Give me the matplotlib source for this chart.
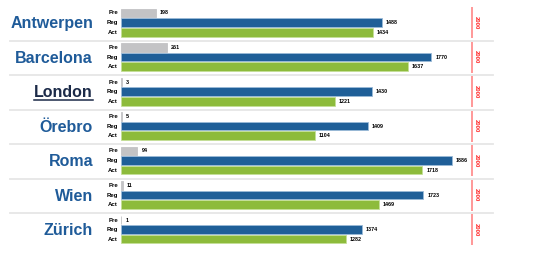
import numpy as np
import matplotlib
matplotlib.use("Agg")
import matplotlib.pyplot as plt

cities = ["Antwerpen", "Barcelona", "London", "Örebro", "Roma", "Wien", "Zürich"]
pre = [198, 261, 3, 5, 94, 11, 1]
reg = [1488, 1770, 1430, 1409, 1886, 1723, 1374]
act = [1434, 1637, 1221, 1104, 1718, 1469, 1282]
row_names = ["Pre", "Reg", "Act"]
ref_value = 2000
highlight = "London"

W, H = 541, 261
px = 0.1754            # pixels per unit
x0 = 121               # left of bars in pixels
fig = plt.figure(figsize=(W / 100, H / 100), dpi=100)
ax = fig.add_axes([x0 / W, 0, (W - x0) / W, 1])
ax.set_xlim(0, (W - x0) / px)
ax.set_ylim(H, 0)
ax.axis("off")

def u(p):  # pixel offset -> data units
    return p / px

font = "Liberation Sans"
pitch = 34.5
top = 13.0
step = 9.6
bh = 8.6
colors = ["#c3c3c5", "#1f5f98", "#8dbb3b"]
edges = ["#c3c3c5", "#9bbad8", "#c4df98"]

for i, city in enumerate(cities):
    yc = top + i * pitch
    ys = [yc, yc + step, yc + 2 * step]
    vals = [pre[i], reg[i], act[i]]
    for k in range(3):
        ax.barh(ys[k], vals[k], height=bh, color=colors[k], edgecolor=edges[k], linewidth=0.6)
        ax.text(vals[k] + u(4), ys[k], str(vals[k]), fontsize=3.9, fontweight="bold",
                va="center", ha="left", family=font)
        ax.text(u(-3), ys[k], row_names[k], fontsize=4.3, fontweight="bold",
                va="center", ha="right", family=font)
    # reference line
    ax.plot([ref_value, ref_value], [yc - 6, yc + 2 * step + 6], color="#ff9090",
            lw=1.3, solid_capstyle="butt")
    ax.text(ref_value + u(4), yc + step, str(ref_value), rotation=270, fontsize=4.2,
            color="#ff2020", va="center", ha="center", family=font, fontweight="bold")
    # city name
    col = "#1b2a48" if city == highlight else "#1f5b99"
    t = ax.text(u(93 - x0), yc + step + 1, city, fontsize=11.5, fontweight="bold",
                color=col, ha="right", va="center", family=font)
    if city == highlight:
        fig.canvas.draw()
        bb = t.get_window_extent().transformed(ax.transData.inverted())
        ax.plot([bb.x0, bb.x1], [yc + step + 8, yc + step + 8], color=col, lw=1.1,
                clip_on=False)
    # separator
    if i < len(cities) - 1:
        ys_sep = yc + 2 * step + 8.5
        ax.plot([u(10 - x0), u(493 - x0)], [ys_sep, ys_sep], color="#e6e6e6", lw=1.3,
                clip_on=False)

fig.savefig("out.png", dpi=100)
